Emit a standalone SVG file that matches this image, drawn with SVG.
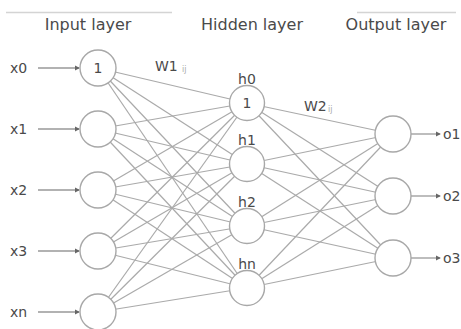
<svg xmlns="http://www.w3.org/2000/svg" width="461" height="329" viewBox="0 0 461 329">
<style>
text{font-family:"DejaVu Sans","Liberation Sans",sans-serif;fill:#4a4a4a;}
.hdr{font-size:16px;text-anchor:middle;}
.lbl{font-size:14px;}
.c{font-size:14px;text-anchor:middle;}
.sub{font-size:8px;fill:#aaa;}
.node circle{fill:#fff;stroke:#a8a8a8;stroke-width:1.4;}
.edge{stroke:#aaa;stroke-width:1.2;fill:none;}
.arr{stroke:#999;stroke-width:1.3;fill:none;marker-end:url(#ah);}
.rule{stroke:#d4d4d4;stroke-width:1.5;}
</style>
<defs>
<marker id="ah" viewBox="0 0 6 6" refX="5" refY="3" markerWidth="4" markerHeight="4" orient="auto" markerUnits="strokeWidth">
<path d="M0,0 L6,3 L0,6 Z" fill="#666"/>
</marker>
</defs>
<rect width="461" height="329" fill="#fff"/>
<line class="rule" x1="6" y1="12.5" x2="172" y2="12.5"/>
<line class="rule" x1="357" y1="12.5" x2="456" y2="12.5"/>
<text class="hdr" x="88" y="30">Input layer</text>
<text class="hdr" x="252" y="30">Hidden layer</text>
<text class="hdr" x="396" y="30">Output layer</text>
<g id="connectors">
<g class="edge">
<line x1="98" y1="68" x2="247" y2="103"/><line x1="98" y1="68" x2="247" y2="164"/><line x1="98" y1="68" x2="247" y2="226"/><line x1="98" y1="68" x2="247" y2="288"/>
<line x1="98" y1="129" x2="247" y2="103"/><line x1="98" y1="129" x2="247" y2="164"/><line x1="98" y1="129" x2="247" y2="226"/><line x1="98" y1="129" x2="247" y2="288"/>
<line x1="98" y1="190" x2="247" y2="103"/><line x1="98" y1="190" x2="247" y2="164"/><line x1="98" y1="190" x2="247" y2="226"/><line x1="98" y1="190" x2="247" y2="288"/>
<line x1="98" y1="251" x2="247" y2="103"/><line x1="98" y1="251" x2="247" y2="164"/><line x1="98" y1="251" x2="247" y2="226"/><line x1="98" y1="251" x2="247" y2="288"/>
<line x1="98" y1="312" x2="247" y2="103"/><line x1="98" y1="312" x2="247" y2="164"/><line x1="98" y1="312" x2="247" y2="226"/><line x1="98" y1="312" x2="247" y2="288"/>
<line x1="247" y1="103" x2="393" y2="134"/><line x1="247" y1="103" x2="393" y2="196"/><line x1="247" y1="103" x2="393" y2="258"/>
<line x1="247" y1="164" x2="393" y2="134"/><line x1="247" y1="164" x2="393" y2="196"/><line x1="247" y1="164" x2="393" y2="258"/>
<line x1="247" y1="226" x2="393" y2="134"/><line x1="247" y1="226" x2="393" y2="196"/><line x1="247" y1="226" x2="393" y2="258"/>
<line x1="247" y1="288" x2="393" y2="134"/><line x1="247" y1="288" x2="393" y2="196"/><line x1="247" y1="288" x2="393" y2="258"/>
</g>
<line class="arr" x1="38" y1="68" x2="79" y2="68"/>
<line class="arr" x1="38" y1="129" x2="79" y2="129"/>
<line class="arr" x1="38" y1="190" x2="79" y2="190"/>
<line class="arr" x1="38" y1="251" x2="79" y2="251"/>
<line class="arr" x1="38" y1="312" x2="79" y2="312"/>
<line class="arr" x1="411" y1="134" x2="440" y2="134"/>
<line class="arr" x1="411" y1="196" x2="440" y2="196"/>
<line class="arr" x1="411" y1="258" x2="440" y2="258"/>
</g>
<text class="lbl" x="10" y="73">x0</text>
<text class="lbl" x="10" y="134">x1</text>
<text class="lbl" x="10" y="195">x2</text>
<text class="lbl" x="10" y="256">x3</text>
<text class="lbl" x="10" y="317">xn</text>
<text class="lbl" x="155" y="71">W1</text><text class="sub" x="182" y="72">ij</text>
<text class="lbl" x="304" y="111">W2</text><text class="sub" x="328" y="112">ij</text>
<g id="x0" class="node"><circle cx="98" cy="68" r="18"/><text class="c" x="98" y="73">1</text></g>
<g id="x1" class="node"><circle cx="98" cy="129" r="18"/></g>
<g id="x2" class="node"><circle cx="98" cy="190" r="18"/></g>
<g id="x3" class="node"><circle cx="98" cy="251" r="18"/></g>
<g id="xn" class="node"><circle cx="98" cy="312" r="18"/></g>
<g id="h0" class="node"><circle cx="247" cy="103" r="17.5"/><text class="c" x="247" y="108">1</text><text class="c" x="247" y="84">h0</text></g>
<g id="h1" class="node"><circle cx="247" cy="164" r="17.5"/><text class="c" x="247" y="145">h1</text></g>
<g id="h2" class="node"><circle cx="247" cy="226" r="17.5"/><text class="c" x="247" y="207">h2</text></g>
<g id="hn" class="node"><circle cx="247" cy="288" r="17.5"/><text class="c" x="247" y="269">hn</text></g>
<g id="o1" class="node"><circle cx="393" cy="134" r="18"/><text class="lbl" x="443" y="139">o1</text></g>
<g id="o2" class="node"><circle cx="393" cy="196" r="18"/><text class="lbl" x="443" y="201">o2</text></g>
<g id="o3" class="node"><circle cx="393" cy="258" r="18"/><text class="lbl" x="443" y="263">o3</text></g>
</svg>
